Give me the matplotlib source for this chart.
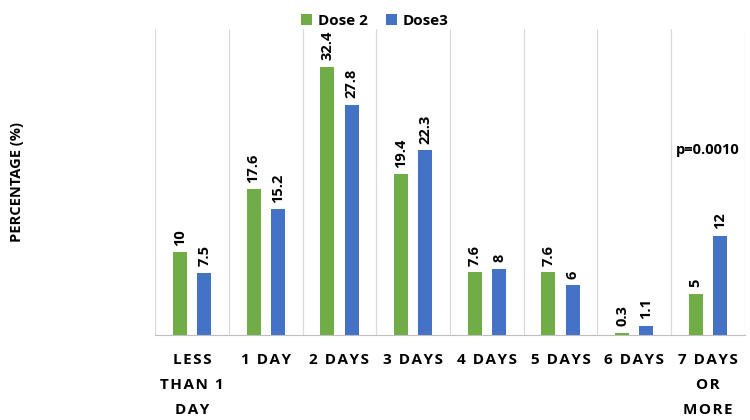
import matplotlib.pyplot as plt
import numpy as np

categories = ['LESS\nTHAN 1\nDAY', '1 DAY', '2 DAYS', '3 DAYS', '4 DAYS', '5 DAYS', '6 DAYS', '7 DAYS\nOR\nMORE']
dose2 = [10, 17.6, 32.4, 19.4, 7.6, 7.6, 0.3, 5]
dose3 = [7.5, 15.2, 27.8, 22.3, 8, 6, 1.1, 12]
dose2_labels = ['10', '17.6', '32.4', '19.4', '7.6', '7.6', '0.3', '5']
dose3_labels = ['7.5', '15.2', '27.8', '22.3', '8', '6', '1.1', '12']

plt.rcParams['font.family'] = ['Open Sans', 'DejaVu Sans']


def spaced(s):
    # mimic the wide letter spacing of the original axis labels
    return '\n'.join('\u200a'.join(line) for line in s.split('\n'))


fig = plt.figure(figsize=(7.5, 4.2), dpi=100)
ax = fig.add_axes([0.207, 0.202, 0.786, 0.73])

x = np.arange(len(categories))
w = 0.19
b1 = ax.bar(x - 0.165, dose2, w, color='#70AD47', label='Dose 2')
b2 = ax.bar(x + 0.165, dose3, w, color='#4472C4', label='Dose3')

for rect, lab in zip(b1, dose2_labels):
    ax.text(rect.get_x() + rect.get_width() / 2, rect.get_height() + 0.8, lab,
            rotation=90, ha='center', va='bottom', fontsize=10.5, fontweight='bold')
for rect, lab in zip(b2, dose3_labels):
    ax.text(rect.get_x() + rect.get_width() / 2, rect.get_height() + 0.8, lab,
            rotation=90, ha='center', va='bottom', fontsize=10.5, fontweight='bold')

ax.text(x[-1], 21.5, 'p=0.0010', ha='center', va='bottom', fontsize=10.5, fontweight='bold')

ax.set_xlim(-0.5, len(categories) - 0.5)
ax.set_ylim(0, 37)
ax.set_yticks([])
for xv in np.arange(-0.5, len(categories), 1):
    ax.axvline(xv, color='#d9d9d9', lw=0.9, zorder=0)
for s in ['top', 'left', 'right']:
    ax.spines[s].set_visible(False)
ax.spines['bottom'].set_color('#bfbfbf')

ax.set_xticks(x)
ax.set_xticklabels([spaced(c) for c in categories], fontsize=11, fontweight='bold')
ax.tick_params(axis='x', length=0, pad=13)
for t in ax.get_xticklabels():
    t.set_linespacing(2.0)
    t.set_va('top')

ax.set_ylabel('PERCENTAGE (%)', fontsize=10.5, fontweight='bold')
ax.yaxis.set_label_coords(-0.222, 0.5)

fig.legend(loc='upper center', bbox_to_anchor=(0.5, 1.0), ncol=2, frameon=False,
           prop={'weight': 'bold', 'size': 11}, handlelength=0.7,
           handleheight=0.7, columnspacing=1.2, handletextpad=0.4)

fig.savefig('out.png', dpi=100)
